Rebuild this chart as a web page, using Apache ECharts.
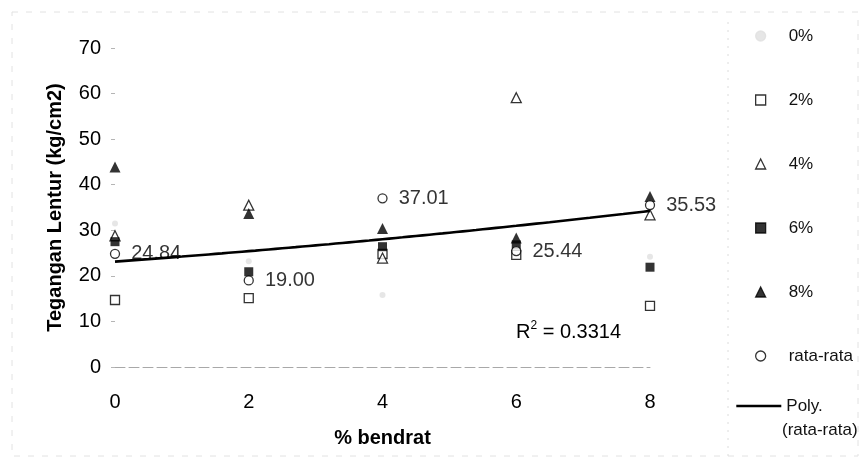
<!DOCTYPE html>
<html>
<head>
<meta charset="utf-8">
<script src="https://cdn.jsdelivr.net/npm/echarts@6/dist/echarts.min.js"></script>
<style>
  html, body { margin: 0; padding: 0; background: #fff; }
  #chart { width: 861px; height: 459px; }
</style>
</head>
<body>
<div id="chart"></div>
<script>
// % bendrat (steel wire content) on the x axis
const bendrat = [0, 2, 4, 6, 8];
const yTicks = [0, 10, 20, 30, 40, 50, 60, 70];

// Flexural stress (kg/cm2) per specimen group
const s0 = [31.5, 23.2, 15.8, 25.0, 24.2];
const s2 = [14.7, 15.1, 24.8, 24.6, 13.4];
const s4 = [28.8, 35.5, 23.9, 59.1, 33.4];
const s6 = [27.5, 20.9, 26.4, 26.8, 21.9];
const s8 = [43.9, 33.7, 30.4, 28.3, 37.4];
const rataRata = [24.84, 19.00, 37.01, 25.44, 35.53];
const r2Text = '0.3314';

const FONT = '"Liberation Sans", Arial, sans-serif';
const INK = '#000';

// Second-order polynomial least-squares fit of the averages
function polyFit2(xs, ys) {
  let n = xs.length, sx = 0, sx2 = 0, sx3 = 0, sx4 = 0, sy = 0, sxy = 0, sx2y = 0;
  for (let i = 0; i < n; i++) {
    const x = xs[i], y = ys[i];
    sx += x; sx2 += x * x; sx3 += x * x * x; sx4 += x * x * x * x;
    sy += y; sxy += x * y; sx2y += x * x * y;
  }
  const M = [[n, sx, sx2, sy], [sx, sx2, sx3, sxy], [sx2, sx3, sx4, sx2y]];
  for (let c = 0; c < 3; c++) {
    let p = c;
    for (let r = c + 1; r < 3; r++) if (Math.abs(M[r][c]) > Math.abs(M[p][c])) p = r;
    [M[c], M[p]] = [M[p], M[c]];
    for (let r = 0; r < 3; r++) {
      if (r === c) continue;
      const f = M[r][c] / M[c][c];
      for (let k = c; k < 4; k++) M[r][k] -= f * M[c][k];
    }
  }
  return [M[0][3] / M[0][0], M[1][3] / M[1][1], M[2][3] / M[2][2]];
}
const coef = polyFit2(bendrat, rataRata);
const trend = [];
for (let i = 0; i <= 80; i++) {
  const x = bendrat[0] + (bendrat[bendrat.length - 1] - bendrat[0]) * i / 80;
  trend.push([x, coef[0] + coef[1] * x + coef[2] * x * x]);
}

const pair = arr => arr.map((v, i) => [bendrat[i], v]);

function markerSeries(name, data, symbol, size, filled, color) {
  return {
    name, type: 'scatter', data: pair(data), symbol, symbolSize: size,
    itemStyle: {
      color: filled ? color : '#fff',
      borderColor: color,
      borderWidth: filled ? 0 : 1.3
    },
    z: 3
  };
}

const chart = echarts.init(document.getElementById('chart'), null, { renderer: 'canvas' });
chart.setOption({
  backgroundColor: '#fff',
  animation: false,
  textStyle: { fontFamily: FONT },
  grid: { left: 115, right: 211, top: 48, bottom: 92 },
  xAxis: {
    type: 'value', min: 0, max: 8, interval: 2,
    name: '% bendrat', nameLocation: 'middle', nameGap: 61,
    nameTextStyle: { fontFamily: FONT, fontSize: 20, fontWeight: 'bold', color: INK },
    axisLine: { show: true, lineStyle: { color: '#a8a8a8', width: 1, type: [10, 4] } },
    axisTick: { show: false },
    axisLabel: {
      margin: 25, fontSize: 20, color: INK, fontFamily: FONT,
      formatter: v => (bendrat.indexOf(v) >= 0 ? String(v) : '')
    },
    splitLine: { show: false }
  },
  yAxis: {
    type: 'value', min: 0, max: 70, interval: 10,
    name: 'Tegangan Lentur (kg/cm2)', nameLocation: 'middle', nameGap: 50,
    nameTextStyle: { fontFamily: FONT, fontSize: 20, fontWeight: 'bold', color: INK },
    axisLine: { show: false },
    axisTick: { show: true, length: 4, lineStyle: { color: '#b5b5b5' } },
    axisLabel: {
      margin: 14, fontSize: 20, color: INK, fontFamily: FONT,
      formatter: v => (yTicks.indexOf(v) >= 0 ? String(v) : '')
    },
    splitLine: { show: false }
  },
  legend: [
    {
      orient: 'vertical', left: 750, top: 21,
      itemWidth: 10, itemHeight: 10, itemGap: 44,
      symbolKeepAspect: true,
      textStyle: { fontFamily: FONT, fontSize: 17, color: '#111', lineHeight: 20, padding: [0, 0, 0, 18] },
      itemStyle: { borderWidth: 1.3 },
      data: ['0%', '2%', '4%', '6%', '8%', 'rata-rata']
    },
    {
      orient: 'vertical', left: 730, top: 391,
      itemWidth: 45, itemHeight: 10,
      textStyle: { fontFamily: FONT, fontSize: 17, color: '#111', lineHeight: 20 },
      itemStyle: { opacity: 0 },
      lineStyle: { color: '#000', width: 2.6, opacity: 1 },
      formatter: () => 'Poly.',
      data: ['Poly. (rata-rata)']
    }
  ],
  graphic: [
    {
      type: 'text', left: 782, top: 422,
      style: { text: '(rata-rata)', fontFamily: FONT, fontSize: 17, fill: '#111' }
    },
    {
      type: 'text', left: 516, top: 320,
      style: {
        text: '{r|R}{s|2}{r| = ' + r2Text + '}',
        rich: {
          r: { fontFamily: FONT, fontSize: 20, fill: INK, verticalAlign: 'bottom' },
          s: { fontFamily: FONT, fontSize: 12, fill: INK, verticalAlign: 'top', padding: [0, 0, 10, 0] }
        }
      }
    },
    {
      type: 'rect', silent: true, z: -1,
      shape: { x: 12, y: 12, width: 846, height: 444 },
      style: { fill: 'none', stroke: '#e2e2e2', lineWidth: 1, lineDash: [6, 8] }
    },
    {
      type: 'line', silent: true, z: -1,
      shape: { x1: 728, y1: 22, x2: 728, y2: 456 },
      style: { stroke: '#dcdcdc', lineWidth: 1, lineDash: [2, 6] }
    }
  ],
  series: [
    markerSeries('0%', s0, 'circle', 6, true, '#e0e0e0'),
    markerSeries('2%', s2, 'rect', 9, false, '#000'),
    markerSeries('4%', s4, 'triangle', 10, false, '#000'),
    markerSeries('6%', s6, 'rect', 9, true, '#000'),
    markerSeries('8%', s8, 'triangle', 11, true, '#000'),
    {
      name: 'rata-rata', type: 'scatter', data: pair(rataRata),
      symbol: 'circle', symbolSize: 9,
      itemStyle: { color: '#fff', borderColor: '#000', borderWidth: 1.3 },
      label: {
        show: true, position: 'right', distance: 11,
        fontFamily: FONT, fontSize: 20, color: INK,
        formatter: p => p.value[1].toFixed(2)
      },
      z: 4
    },
    {
      name: 'Poly. (rata-rata)', type: 'line', data: trend,
      symbol: 'none', smooth: false,
      itemStyle: { color: '#000' },
      lineStyle: { color: '#000', width: 2.6 },
      z: 5
    }
  ]
});
</script>
</body>
</html>
